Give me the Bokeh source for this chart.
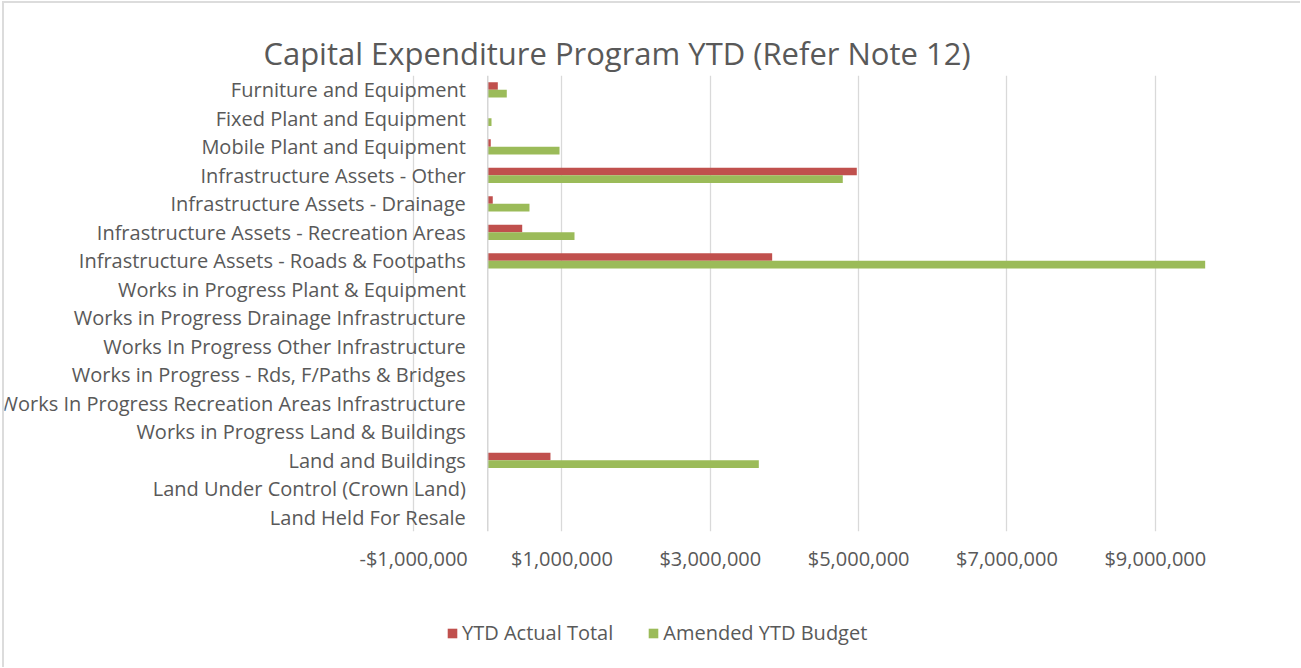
from bokeh.plotting import figure
from bokeh.layouts import column, row
from bokeh.models import Range1d, FactorRange, FixedTicker, CustomJSTickFormatter, Span, ColumnDataSource, Div
from bokeh.transform import dodge
from bokeh.core.properties import value
from bokeh.embed import file_html
from bokeh.resources import INLINE

title_text = "Capital Expenditure Program YTD (Refer Note 12)"

categories = [
    "Furniture and Equipment",
    "Fixed Plant and Equipment",
    "Mobile Plant and Equipment",
    "Infrastructure Assets - Other",
    "Infrastructure Assets - Drainage",
    "Infrastructure Assets - Recreation Areas",
    "Infrastructure Assets - Roads & Footpaths",
    "Works in Progress Plant & Equipment",
    "Works in Progress Drainage Infrastructure",
    "Works In Progress Other Infrastructure",
    "Works in Progress - Rds, F/Paths & Bridges",
    "Works In Progress Recreation Areas Infrastructure",
    "Works in Progress Land & Buildings",
    "Land and Buildings",
    "Land Under Control (Crown Land)",
    "Land Held For Resale",
]

ytd_actual = [135000, 0, 40000, 4975000, 67000, 464000, 3834000,
              0, 0, 0, 0, 0, 0, 845000, 0, 0]
amended_budget = [256000, 50000, 967000, 4786000, 562000, 1169000, 9672000,
                  0, 0, 0, 0, 0, 0, 3654000, 0, 0]

series_names = ["YTD Actual Total", "Amended YTD Budget"]
x_ticks = [-1000000, 1000000, 3000000, 5000000, 7000000, 9000000]

RED = "#C0504D"
GREEN = "#9BBB59"
TXT = "#595959"
FONT = "Open Sans"
BORDER = "#DCDCDC"

src = ColumnDataSource(dict(cat=categories, actual=ytd_actual, budget=amended_budget))

p = figure(
    width=1285, height=577,
    x_range=Range1d(-6516000, 10000000),
    y_range=FactorRange(factors=list(reversed(categories)), range_padding=0),
    output_backend="svg", toolbar_location=None,
    y_axis_location=None,
    min_border_left=0, min_border_right=60, min_border_top=72, min_border_bottom=49,
    title=title_text,
)
p.outline_line_color = None
p.background_fill_color = "white"

p.title.align = "center"
p.title.text_font = FONT
p.title.text_font_size = "31px"
p.title.text_font_style = "normal"
p.title.text_color = TXT
p.title.standoff = 4

# grid
p.xaxis.ticker = FixedTicker(ticks=x_ticks)
p.xgrid.ticker = FixedTicker(ticks=x_ticks)
p.xgrid.grid_line_color = "#D9D9D9"
p.xgrid.grid_line_width = 1.3
p.ygrid.visible = False

p.xaxis.formatter = CustomJSTickFormatter(code="""
    const s = Math.abs(tick).toLocaleString('en-US');
    return (tick < 0 ? '-' : '') + '$' + s;
""")
p.xaxis.axis_line_color = None
p.xaxis.major_tick_line_color = None
p.xaxis.minor_tick_line_color = None
p.xaxis.major_label_text_font = FONT
p.xaxis.major_label_text_font_size = "20px"
p.xaxis.major_label_text_color = TXT
p.xaxis.major_label_standoff = 7

# vertical axis line at zero
p.add_layout(Span(location=0, dimension="height", line_color="#D0D0D0", line_width=1.3))

p.hbar(y=dodge("cat", 0.13, range=p.y_range), left=0, right="actual", height=0.26,
       source=src, fill_color=RED, line_color=None)
p.hbar(y=dodge("cat", -0.135, range=p.y_range), left=0, right="budget", height=0.27,
       source=src, fill_color=GREEN, line_color=None)

# category labels next to the zero axis
p.text(x=0, y="cat", text="cat", source=src, x_offset=-22,
       text_align="right", text_baseline="middle",
       text_font=value(FONT), text_font_size="20px", text_color=TXT)

# legend strip below the chart
q = figure(
    width=1285, height=80,
    x_range=Range1d(0, 1), y_range=Range1d(0, 1),
    output_backend="svg", toolbar_location=None,
    x_axis_location=None, y_axis_location=None,
    min_border=0, min_border_left=0, min_border_right=0, min_border_top=0, min_border_bottom=0,
)
q.outline_line_color = None
q.xgrid.visible = False
q.ygrid.visible = False
# placeholder sources (a zero-width bar outside the view) so the legend swatches render
ph_red = ColumnDataSource(dict(y=[-5], right=[0]))
ph_green = ColumnDataSource(dict(y=[-5], right=[0]))
q.hbar(y="y", right="right", left=0, height=0.5, source=ph_red,
       fill_color=RED, line_color=None, legend_label=series_names[0])
q.hbar(y="y", right="right", left=0, height=0.5, source=ph_green,
       fill_color=GREEN, line_color=None, legend_label=series_names[1])

lg = q.legend[0]
lg.orientation = "horizontal"
lg.location = (442, 14)
lg.padding = 0
lg.margin = 0
lg.spacing = 34
lg.border_line_color = None
lg.background_fill_alpha = 0
lg.glyph_width = 12
lg.glyph_height = 12
lg.label_standoff = 4
lg.label_text_font = FONT
lg.label_text_font_size = "20px"
lg.label_text_color = TXT

# chart-area border (top and left edges only are visible in the reference)
top_line = Div(text="", width=1298, height=2, margin=0,
               styles={"background-color": BORDER})
left_line = Div(text="", width=2, height=664, margin=0,
                styles={"background-color": BORDER})

layout = column(
    top_line,
    row(left_line, column(p, q, spacing=0, margin=0), spacing=0, margin=0),
    spacing=0, margin=(1, 0, 0, 2),
)
open("out.html", "w").write(file_html(layout, INLINE))
